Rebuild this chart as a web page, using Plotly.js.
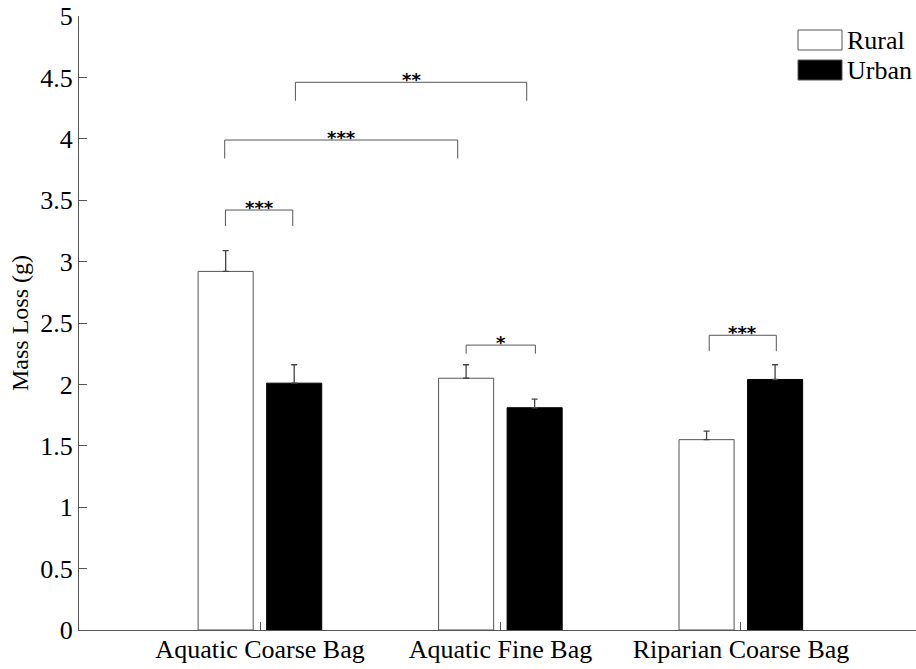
<!DOCTYPE html>
<html>
<head>
<meta charset="utf-8">
<script src="https://cdn.plot.ly/plotly-3.0.1.min.js"></script>
<style>html,body{margin:0;padding:0;background:#fff;}#chart{width:916px;height:669px;}</style>
</head>
<body>
<div id="chart"></div>
<script>
// ---- data ----
const categories = ["Aquatic Coarse Bag", "Aquatic Fine Bag", "Riparian Coarse Bag"];
const ruralMean = [2.92, 2.05, 1.55];
const ruralErr = [0.17, 0.11, 0.07];
const urbanMean = [2.01, 1.81, 2.04];
const urbanErr = [0.15, 0.07, 0.12];
const yTicks = [0, 0.5, 1, 1.5, 2, 2.5, 3, 3.5, 4, 4.5, 5];
// significance brackets: x start/end (category index units), top y, leg bottom y, label
const bracketX0 = [-0.144, -0.147, 0.147, 0.857, 1.868];
const bracketX1 = [0.136, 0.822, 1.109, 1.145, 2.147];
const bracketTop = [3.42, 3.99, 4.46, 2.32, 2.40];
const bracketLeg = [3.29, 3.84, 4.31, 2.25, 2.27];
const bracketLabel = ["***", "***", "**", "*", "***"];
const legendNames = ["Rural", "Urban"];
const legendFills = ["#ffffff", "#000000"];

const font = "Liberation Serif, Times New Roman, serif";
const barW = 0.229;

const traces = [
  {
    type: "bar", name: "Rural", x: categories, y: ruralMean,
    width: barW, offset: -0.2575,
    marker: {color: "#ffffff", line: {color: "#555555", width: 1}},
    error_y: {type: "data", array: ruralErr, arrayminus: ruralErr.map(() => 0), symmetric: false,
      color: "#444444", thickness: 1.3, width: 3},
    showlegend: false, hoverinfo: "none"
  },
  {
    type: "bar", name: "Urban", x: categories, y: urbanMean,
    width: barW, offset: 0.0275,
    marker: {color: "#000000", line: {color: "#000000", width: 1}},
    error_y: {type: "data", array: urbanErr, arrayminus: urbanErr.map(() => 0), symmetric: false,
      color: "#444444", thickness: 1.3, width: 3},
    showlegend: false, hoverinfo: "none"
  }
];

const shapes = [];
const annotations = [];
for (let i = 0; i < bracketLabel.length; i++) {
  shapes.push({
    type: "path", xref: "x", yref: "y",
    path: `M ${bracketX0[i]} ${bracketLeg[i]} L ${bracketX0[i]} ${bracketTop[i]} L ${bracketX1[i]} ${bracketTop[i]} L ${bracketX1[i]} ${bracketLeg[i]}`,
    line: {color: "#555555", width: 1}
  });
  annotations.push({
    x: (bracketX0[i] + bracketX1[i]) / 2, y: bracketTop[i], xref: "x", yref: "y",
    text: "<b>" + bracketLabel[i] + "</b>", showarrow: false, yanchor: "bottom", yshift: -10,
    font: {family: "DejaVu Sans, sans-serif", size: 18, color: "#000000"}
  });
}
// custom legend (paper coords)
for (let i = 0; i < legendNames.length; i++) {
  const top = 1 - (30 - 16 + i * 30) / 614;
  const bot = top - 20 / 614;
  shapes.push({
    type: "rect", xref: "paper", yref: "paper",
    x0: (798 - 79) / 837, x1: (842 - 79) / 837, y0: bot, y1: top,
    fillcolor: legendFills[i], line: {color: "#555555", width: 1}
  });
  annotations.push({
    x: (845 - 79) / 837, y: (top + bot) / 2, xref: "paper", yref: "paper",
    text: legendNames[i], showarrow: false, xanchor: "left", yanchor: "middle",
    font: {family: font, size: 26, color: "#000"}
  });
}

const layout = {
  width: 916, height: 669,
  margin: {l: 79, r: 0, t: 16, b: 39},
  paper_bgcolor: "#fff", plot_bgcolor: "#fff",
  font: {family: font, size: 26, color: "#000"},
  xaxis: {
    type: "category", range: [-0.753, 2.728],
    showgrid: false, zeroline: false, showline: true, linecolor: "#555555", linewidth: 1,
    ticks: "inside", ticklen: 8, tickcolor: "#555555", ticklabelstandoff: -4,
    tickfont: {family: font, size: 26, color: "#000"}
  },
  yaxis: {
    range: [0, 5], tickvals: yTicks, ticktext: yTicks.map(String),
    showgrid: false, zeroline: false, showline: true, linecolor: "#555555", linewidth: 1,
    ticks: "inside", ticklen: 8, tickcolor: "#555555",
    tickfont: {family: font, size: 26, color: "#000"},
    title: {text: "Mass Loss (g)", font: {family: font, size: 24, color: "#000"}, standoff: 4}
  },
  shapes: shapes,
  annotations: annotations,
  showlegend: false
};

Plotly.newPlot("chart", traces, layout, {displayModeBar: false, staticPlot: true});
</script>
</body>
</html>
